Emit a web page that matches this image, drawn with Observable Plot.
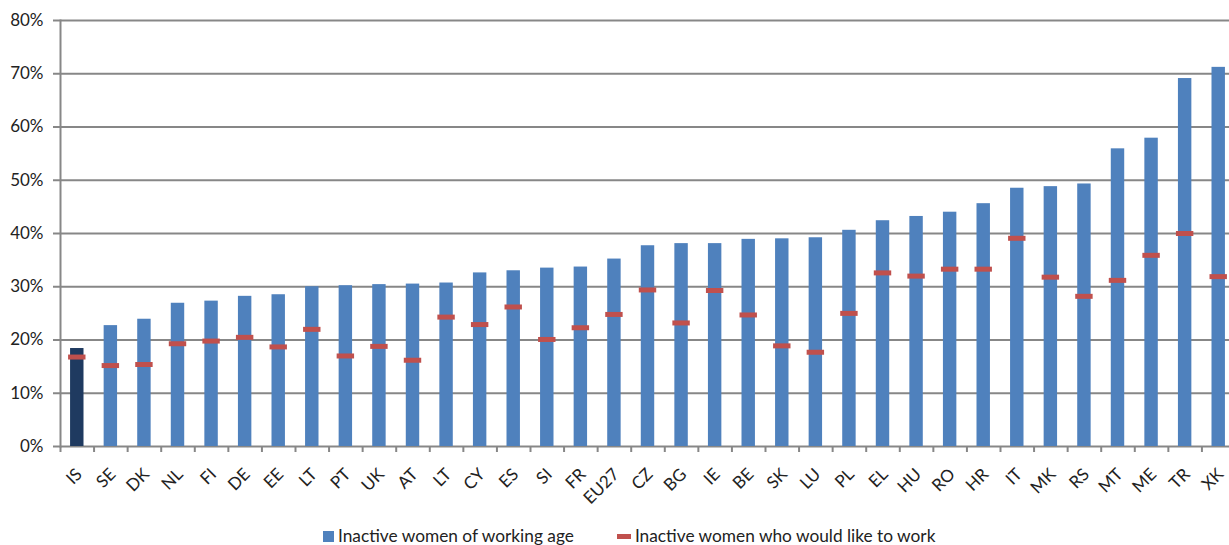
<!DOCTYPE html>
<html>
<head>
<meta charset="utf-8">
<script src="https://cdn.jsdelivr.net/npm/d3@7"></script>
<script src="https://cdn.jsdelivr.net/npm/@observablehq/plot@0.6"></script>
<style>
  html, body { margin: 0; padding: 0; background: #fff; overflow: hidden; }
  #wrap { position: relative; width: 1229px; height: 545px; }
  #legend { position: absolute; left: 323px; top: 526px; display: flex; align-items: center; line-height: 20px;
            font-family: Lato, "Open Sans", sans-serif; font-size: 17.3px; color: #222; white-space: nowrap; }
  .sw { display: inline-block; }
</style>
</head>
<body>
<div id="wrap">
  <div id="chart"></div>
  <div id="legend">
    <span class="sw" style="width:11px;height:11px;background:#4F81BD;margin-right:4px"></span>
    <span>Inactive women of working age</span>
    <span class="sw" style="width:14px;height:5px;background:#C0504D;margin-left:43px;margin-right:4px"></span>
    <span>Inactive women who would like to work</span>
  </div>
</div>
<script>
const labels = ["IS","SE","DK","NL","FI","DE","EE","LT","PT","UK","AT","LT","CY","ES","SI","FR","EU27","CZ","BG","IE","BE","SK","LU","PL","EL","HU","RO","HR","IT","MK","RS","MT","ME","TR","XK"];
const inactive = [18.4,22.7,23.9,26.9,27.3,28.2,28.5,30.0,30.2,30.4,30.5,30.7,32.6,33.0,33.5,33.7,35.2,37.7,38.1,38.1,38.9,39.0,39.2,40.6,42.4,43.2,44.0,45.6,48.5,48.8,49.3,55.9,57.9,69.1,71.2];
const wouldLike = [16.8,15.2,15.4,19.3,19.8,20.5,18.7,22.0,17.0,18.8,16.2,24.3,22.9,26.2,20.1,22.3,24.8,29.4,23.2,29.3,24.7,18.9,17.7,25.0,32.6,32.0,33.3,33.3,39.1,31.8,28.2,31.2,35.9,40.0,31.9];
const highlighted = ["IS"];
const yTicks = [0,10,20,30,40,50,60,70,80];

const data = labels.map((c, i) => ({i, c, inactive: inactive[i], like: wouldLike[i]}));

const W = 1229, ML = 60, MR = -6;
const step = (W - MR - ML) / labels.length;
const gridColor = "#878787";

const chart = Plot.plot({
  width: W, height: 500,
  marginLeft: ML, marginRight: MR, marginTop: 20, marginBottom: 54,
  style: {fontFamily: "Lato, 'Open Sans', sans-serif", fontSize: "17px", color: "#222", background: "white", overflow: "visible"},
  x: {type: "band", domain: d3.range(labels.length), paddingInner: 0.6, paddingOuter: 0.3, round: false, label: null},
  y: {domain: [0, 80], label: null},
  color: {type: "identity"},
  marks: [
    Plot.gridY(yTicks, {stroke: gridColor, strokeOpacity: 1, strokeWidth: 2}),
    Plot.axisY(yTicks, {tickSize: 7, tickPadding: 10, stroke: gridColor, strokeWidth: 2, tickFormat: d => d + "%", fontSize: 17}),
    Plot.frame({anchor: "left", stroke: gridColor, strokeWidth: 2}),
    Plot.axisX({tickSize: 6, tickFormat: () => "", dx: -step / 2, stroke: gridColor, strokeWidth: 2}),
    Plot.axisX({tickSize: 0, tickPadding: 25, tickRotate: -45, tickFormat: i => labels[i], fontSize: 17, dx: 2}),
    Plot.barY(data, {x: "i", y: "inactive", fill: d => highlighted.includes(d.c) ? "#1F3A60" : "#4F81BD"}),
    Plot.tickY(data, {x: "i", y: "like", stroke: "#C0504D", strokeWidth: 5, insetLeft: -2, insetRight: -2})
  ]
});
document.getElementById("chart").appendChild(chart);
</script>
</body>
</html>
